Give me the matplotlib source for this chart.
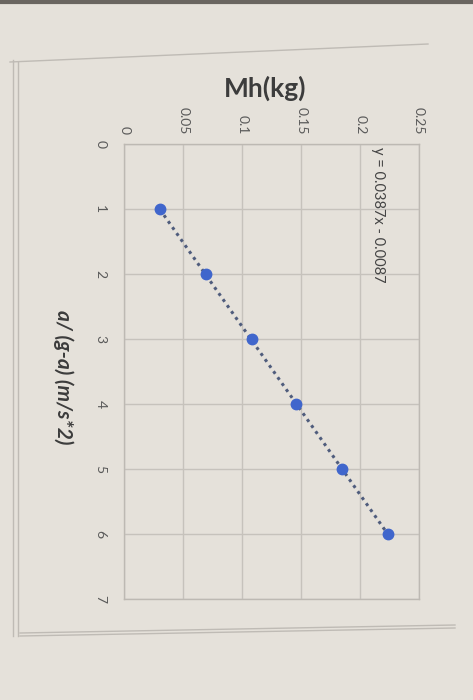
""" Mh vs a/(g-a) scatter with linear trendline
Photo of an Excel chart turned on its side, so the axes are swapped on screen """

import matplotlib.pyplot as plt
from matplotlib.lines import Line2D
import numpy as np

plt.rcParams['font.family'] = ['Lato', 'DejaVu Sans']

# data
accel_ratio = [1, 2, 3, 4, 5, 6]                        # a/(g-a) (m/s*2)
mass = [0.030, 0.069, 0.108, 0.146, 0.185, 0.224]        # Mh (kg)
slope, intercept = 0.0387, -0.0087                       # Excel trendline
mass_ticks = [0, 0.05, 0.1, 0.15, 0.2, 0.25]
mass_ticklabels = ['0', '0.05', '0.1', '0.15', '0.2', '0.25']
ratio_ticks = [0, 1, 2, 3, 4, 5, 6, 7]

bg = '#e5e1da'
grid_col = '#c6c2bc'
pt_col = '#4066cc'
line_col = '#4f5c7c'
txt_col = '#5a5a5a'

fig = plt.figure(figsize=(4.73, 7), dpi=100, facecolor=bg)
ax = fig.add_axes([0.263, 0.144, 0.623, 0.65], facecolor=bg)

# trendline over the range of the points
xr = np.array([accel_ratio[0], accel_ratio[-1]])
ax.plot(slope*xr + intercept, xr, ls=(0, (1, 1.4)), lw=2.2, c=line_col, zorder=3)
ax.plot(mass, accel_ratio, 'o', ms=7.5, c=pt_col, mec=pt_col, zorder=4)

ax.set_xlim(0, 0.25)
ax.set_ylim(7, 0)
ax.set_xticks(mass_ticks)
ax.set_xticklabels(mass_ticklabels)
ax.set_yticks(ratio_ticks)
ax.xaxis.tick_top()
ax.tick_params(axis='x', length=0, pad=7, labelsize=10, labelcolor=txt_col, labelrotation=-90)
ax.tick_params(axis='y', length=0, pad=13, labelsize=10, labelcolor=txt_col, labelrotation=-90)
for lab in ax.get_yticklabels():
    lab.set_va('center')
ax.grid(True, color=grid_col, lw=1)
ax.set_axisbelow(True)
for s in ax.spines.values():
    s.set_color('#bdb9b3')
    s.set_linewidth(1)

ax.text(0.215, 0.05, 'y = 0.0387x - 0.0087', rotation=-90, ha='center', va='top',
        fontsize=10.5, color='#444444')

fig.text(265/473, 1-88/700, 'Mh(kg)', ha='center', va='center',
         fontsize=19, fontweight='bold', color='#3c3c3c')
fig.text(63/473, 1-377/700, 'a/ (g-a) (m/s*2)', rotation=-90, ha='center', va='center',
         fontsize=15, fontweight='bold', fontstyle='italic', color='#3c3c3c')

# chart-area frame and the dark strip at the top of the photo
W, H = 473, 700
frame = [((10, 428), (62, 44)), ((13, 13), (60, 636)), ((18, 18), (62, 636)),
         ((20, 455), (636, 628)), ((20, 455), (633, 625))]
for xs, ys in frame:
    fig.add_artist(Line2D([x/W for x in xs], [1-y/H for y in ys], color='#bfbbb5', lw=1))
fig.add_artist(Line2D([0, 1], [1-1.5/H, 1-1.5/H], color='#6a6560', lw=3))

fig.savefig('out.png', dpi=100, facecolor=bg)
